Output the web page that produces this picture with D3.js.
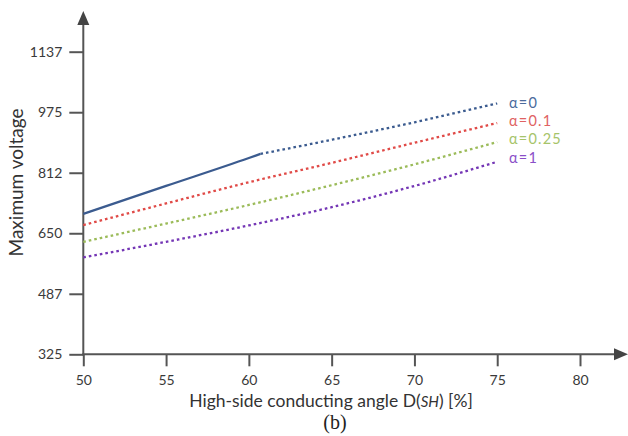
<!DOCTYPE html>
<html>
<head>
<meta charset="utf-8">
<script src="https://cdnjs.cloudflare.com/ajax/libs/d3/7.8.5/d3.min.js"></script>
<style>
  body { margin: 0; background: #fff; }
  svg { display: block; }
  .tick text { font-family: Lato, "Open Sans", sans-serif; font-size: 14px; fill: #3a3a3a; }
  .tick line { stroke: #555; stroke-width: 2; }
</style>
</head>
<body>
<div class="chart"></div>
<script>
// Data
var xTicks = [50, 55, 60, 65, 70, 75, 80];
var yTicks = [325, 487.5, 650, 812.5, 975, 1137.5];
var yTickLabels = ["325", "487", "650", "812", "975", "1137"];

var angle = [50, 55, 60, 65, 70, 75];
var alpha0Angle = [50, 55, 60, 60.7, 65, 70, 75];
var alpha0 = [702, 777, 852, 863, 901, 948, 999];
var alpha01 = [672, 730, 787, 839, 893, 946];
var alpha025 = [627, 676, 726, 779, 835, 895];
var alpha1 = [585, 627, 671, 720, 777, 842];
var solidEnd = 60.7; // alpha=0 is solid up to here, dotted after

var seriesNames = ["α=0", "α=0.1", "α=0.25", "α=1"];
var lineColors = ["#3b5b8f", "#e04a47", "#9bbb59", "#7436b5"];
var labelColors = ["#4a6b9c", "#e06262", "#a6c46a", "#8a4fc8"];

var W = 628, H = 436;

var svg = d3.select(".chart").append("svg")
    .attr("width", W)
    .attr("height", H);

var x = d3.scaleLinear().domain([50, 80]).range([83.3, 580]);
var y = d3.scaleLinear().domain([325, 1137.5]).range([354.3, 51.7]);

// y axis ticks
var yAxis = svg.append("g")
    .attr("transform", "translate(" + x(50) + ",0)")
    .call(d3.axisLeft(y)
        .tickValues(yTicks)
        .tickSize(14)
        .tickPadding(7)
        .tickFormat(function (d, i) { return yTickLabels[i]; }));
yAxis.select(".domain").remove();

// x axis ticks
var xAxis = svg.append("g")
    .attr("transform", "translate(0," + y(325) + ")")
    .call(d3.axisBottom(x)
        .tickValues(xTicks)
        .tickSize(12)
        .tickPadding(9));
xAxis.select(".domain").remove();

// axis lines with arrows
svg.append("line")
    .attr("x1", x(50)).attr("x2", x(50))
    .attr("y1", y(325) + 1).attr("y2", 22)
    .attr("stroke", "#555").attr("stroke-width", 2);
svg.append("path")
    .attr("d", "M" + (x(50) - 6) + ",25 L" + x(50) + ",11 L" + (x(50) + 6) + ",25 Z")
    .attr("fill", "#444");

svg.append("line")
    .attr("x1", x(50) - 1).attr("x2", 616)
    .attr("y1", y(325)).attr("y2", y(325))
    .attr("stroke", "#555").attr("stroke-width", 2);
svg.append("path")
    .attr("d", "M614," + (y(325) - 6) + " L628," + y(325) + " L614," + (y(325) + 6) + " Z")
    .attr("fill", "#444");

// lines
var line = d3.line()
    .x(function (d) { return x(d[0]); })
    .y(function (d) { return y(d[1]); })
    .curve(d3.curveMonotoneX);

function pairs(xs, ys) {
    return xs.map(function (v, i) { return [v, ys[i]]; });
}

var a0 = pairs(alpha0Angle, alpha0);
svg.append("path")
    .attr("d", line(a0.filter(function (d) { return d[0] <= solidEnd; })))
    .attr("fill", "none")
    .attr("stroke", lineColors[0])
    .attr("stroke-width", 2.3);
svg.append("path")
    .attr("d", line(a0.filter(function (d) { return d[0] >= solidEnd; })))
    .attr("fill", "none")
    .attr("stroke", lineColors[0])
    .attr("stroke-width", 2.3)
    .attr("stroke-dasharray", "2.6,3");

var others = [alpha01, alpha025, alpha1];
others.forEach(function (vals, i) {
    svg.append("path")
        .attr("d", line(pairs(angle, vals)))
        .attr("fill", "none")
        .attr("stroke", lineColors[i + 1])
        .attr("stroke-width", 2.3)
        .attr("stroke-dasharray", "2.6,3");
});

// series labels at the line ends
var labelY = [102.7, 120.7, 139.3, 157.7];
seriesNames.forEach(function (name, i) {
    svg.append("text")
        .attr("x", 509)
        .attr("y", labelY[i])
        .attr("dy", "0.35em")
        .attr("font-family", "Lato, 'Open Sans', sans-serif")
        .attr("font-size", 14.5)
        .attr("letter-spacing", 1.2)
        .attr("fill", labelColors[i])
        .text(name);
});

// axis titles
svg.append("text")
    .attr("transform", "translate(23,182.5) rotate(-90)")
    .attr("text-anchor", "middle")
    .attr("font-family", "Lato, 'Open Sans', sans-serif")
    .attr("font-size", 19)
    .attr("fill", "#333")
    .text("Maximum voltage");

var xt = svg.append("text")
    .attr("x", 331)
    .attr("y", 407)
    .attr("text-anchor", "middle")
    .attr("font-family", "Lato, 'Open Sans', sans-serif")
    .attr("font-size", 17.5)
    .attr("fill", "#333");
xt.append("tspan").text("High-side conducting angle D(");
xt.append("tspan").attr("font-style", "italic").attr("font-size", 15).text("SH");
xt.append("tspan").text(") [%]");

svg.append("text")
    .attr("x", 335)
    .attr("y", 429)
    .attr("text-anchor", "middle")
    .attr("font-family", "'Liberation Serif', 'DejaVu Serif', serif")
    .attr("font-size", 20)
    .attr("fill", "#222")
    .text("(b)");
</script>
</body>
</html>
